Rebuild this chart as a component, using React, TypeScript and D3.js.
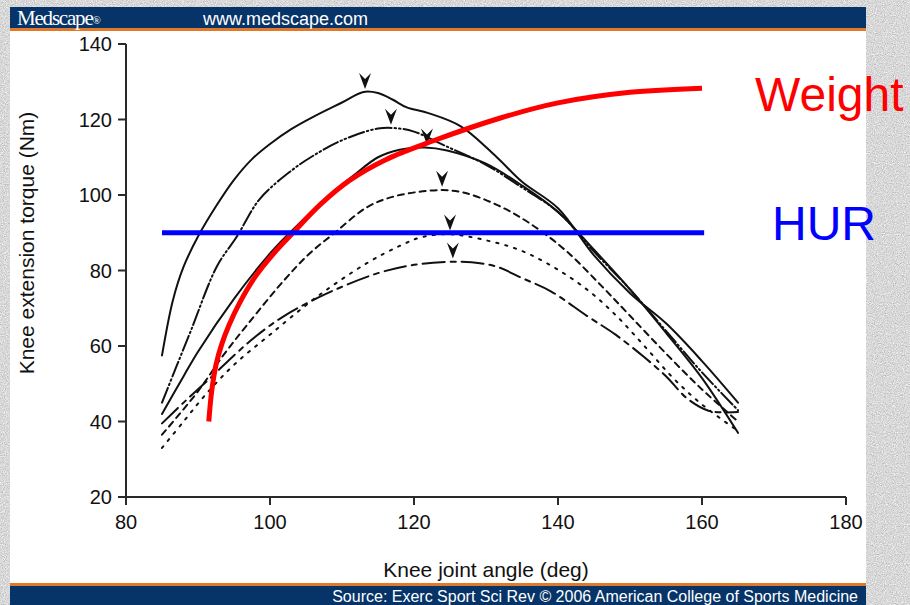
import { useMemo } from "react";
import * as d3 from "d3";

// [knee angle (deg), torque (Nm)]
const solidTop = [
  [85, 57.5], [86.5, 72], [88, 81], [90, 89], [92.5, 97], [95, 104], [97.5, 109.5], [100, 113.5],
  [103, 117.5], [106, 120.7], [110, 124.5], [113, 127.3], [115, 127], [117, 125.3], [119, 123.2],
  [122, 121.7], [126.5, 118.2], [131.5, 110], [135, 103.5], [140, 96.5], [145, 84],
  [150, 74], [155, 66], [160, 56], [165, 45],
];
const dashDotDot = [
  [85, 45], [86.8, 53.6], [89, 64], [92.6, 81], [95.4, 89], [98.6, 99], [103, 106.5], [106, 110.4],
  [110, 114.5], [115, 117.6], [118, 117.6], [120, 116.8], [124.6, 112.8], [130, 108], [135, 102],
  [140, 95.5], [145, 85], [150, 75], [155, 64], [160, 53], [165, 43],
];
const solidMid = [
  [85, 42], [88, 52], [90, 58.5], [95, 72.5], [100, 84.5], [103, 90.5], [108, 99.5], [111.5, 105],
  [115, 110], [118, 112], [121.5, 112.6], [124.6, 111.8], [130, 108.3], [135, 102.5], [140, 95.5],
  [145, 85.5], [150, 75], [155, 63.5], [160, 51.5], [165, 37],
];
const shortDash = [
  [85, 36.5], [90, 48], [93.5, 57.5], [97, 66], [102, 77.5], [105.5, 84.5], [109, 90], [113.5, 96.8],
  [117, 99.5], [120.5, 100.8], [124, 101.3], [127, 100.6], [131.5, 97.4], [136, 92.6], [141, 85.4],
  [146, 76], [150, 68], [155, 58], [160, 48.5], [165, 40],
];
const dotted = [
  [85, 33], [88, 40], [91, 47], [95, 55], [100, 63], [106.5, 73], [113.5, 82], [118, 86.5],
  [121, 88.8], [125, 89.6], [130, 88], [134.7, 85.4], [139.3, 81], [144, 75], [148, 68.2],
  [152, 60], [156, 51.5], [160, 44.5], [165, 37.5],
];
const longDash = [
  [85, 39.5], [88, 45], [91.7, 51.5], [95, 57.5], [98, 62.5], [102, 68], [108, 74], [115, 79.3],
  [120, 81.5], [125, 82.3], [128, 82.2], [131.5, 81], [135, 78], [139, 74.5], [144, 68],
  [148, 63], [152, 57], [155, 52], [158, 46], [161, 42.8], [165, 42.5],
];

// peak markers (angle, torque)
const peaks = [
  [113.2, 127.3], [116.8, 117.8], [121.8, 112.6], [123.9, 101.4], [125, 89.8], [125.4, 82.4],
];

// overlays added on the slide
const weightCurve = [
  [91.5, 40], [91.9, 48], [92.5, 55], [93.3, 60.5], [94.3, 65.5], [95.8, 71.5], [98, 78.5],
  [100.5, 84.5], [103, 89.6], [107, 97.5], [111, 103.8], [116, 109.3], [122.6, 114.3],
  [132, 120.4], [140, 124.4], [150, 127.2], [160, 128.3],
];
const hurLine = [[85, 90], [160.3, 90]];

const xTicks = [80, 100, 120, 140, 160, 180];
const yTicks = [20, 40, 60, 80, 100, 120, 140];

const curves = [
  { data: solidTop, dash: "none" },
  { data: dashDotDot, dash: "16 3 1.5 3 1.5 3" },
  { data: solidMid, dash: "none" },
  { data: shortDash, dash: "6 5" },
  { data: dotted, dash: "2.2 7" },
  { data: longDash, dash: "22 6 5 6" },
];

export default function App() {
  const x = d3.scaleLinear().domain([80, 180]).range([126, 846]);
  const y = d3.scaleLinear().domain([20, 140]).range([497, 44]);

  const line = useMemo(
    () =>
      d3
        .line<number[]>()
        .x((d) => x(d[0]))
        .y((d) => y(d[1]))
        .curve(d3.curveCatmullRom.alpha(0.5)),
    []
  );

  const font = "Arial, 'Liberation Sans', sans-serif";

  return (
    <svg width={910} height={605} style={{ position: "absolute", left: 0, top: 0, display: "block" }}>
      <defs>
        <filter id="grain" x="0" y="0" width="100%" height="100%" colorInterpolationFilters="sRGB">
          <feTurbulence type="fractalNoise" baseFrequency="0.9" numOctaves="2" seed="4" />
          <feColorMatrix
            type="matrix"
            values="0.33 0.33 0.33 0 0  0.33 0.33 0.33 0 0  0.33 0.33 0.33 0 0  0 0 0 0 1"
          />
          <feComponentTransfer>
            <feFuncR type="linear" slope="0.6" intercept="0.55" />
            <feFuncG type="linear" slope="0.6" intercept="0.55" />
            <feFuncB type="linear" slope="0.6" intercept="0.55" />
          </feComponentTransfer>
        </filter>
      </defs>

      {/* slide background */}
      <rect width={910} height={605} fill="#d6d6d6" />
      <rect width={910} height={605} fill="#d6d6d6" filter="url(#grain)" />

      {/* figure panel */}
      <rect x={10} y={30} width={856} height={555} fill="#ffffff" />
      <rect x={10} y={7} width={856} height={21} fill="#063468" />
      <rect x={10} y={28} width={856} height={3} fill="#e07a2a" />
      <text x={17} y={25} fill="#fff" fontFamily="'Liberation Serif', serif" fontSize={21} letterSpacing={-1.2}>
        Medscape
        <tspan fontSize={11} dy={-1}>®</tspan>
      </text>
      <text x={203} y={25} fill="#fff" fontFamily={font} fontSize={18}>
        www.medscape.com
      </text>
      <rect x={10} y={583} width={856} height={3} fill="#e07a2a" />
      <rect x={10} y={586} width={856} height={19} fill="#063468" />
      <text x={858} y={602} fill="#fff" fontFamily={font} fontSize={16} textAnchor="end">
        Source: Exerc Sport Sci Rev © 2006 American College of Sports Medicine
      </text>

      {/* axes */}
      <g stroke="#2a2a2a" strokeWidth={2} fill="none">
        <line x1={x(80)} x2={x(80)} y1={y(140)} y2={y(20)} />
        <line x1={x(80)} x2={x(180)} y1={y(20)} y2={y(20)} />
        {yTicks.map((t) => (
          <line key={"yt" + t} x1={x(80) - 8} x2={x(80)} y1={y(t)} y2={y(t)} />
        ))}
        {xTicks.map((t) => (
          <line key={"xt" + t} x1={x(t)} x2={x(t)} y1={y(20)} y2={y(20) + 8} />
        ))}
      </g>
      <g fontFamily={font} fontSize={20} fill="#111">
        {yTicks.map((t) => (
          <text key={"yl" + t} x={x(80) - 14} y={y(t)} dy="0.35em" textAnchor="end">
            {t}
          </text>
        ))}
        {xTicks.map((t) => (
          <text key={"xl" + t} x={x(t)} y={y(20) + 32} textAnchor="middle">
            {t}
          </text>
        ))}
        <text x={486} y={577} textAnchor="middle" fontSize={21}>
          Knee joint angle (deg)
        </text>
        <text transform="translate(34,243) rotate(-90)" textAnchor="middle" fontSize={21}>
          Knee extension torque (Nm)
        </text>
      </g>

      {/* torque-angle curves */}
      <g fill="none" stroke="#111" strokeWidth={2} strokeLinecap="round">
        {curves.map((c, i) => (
          <path key={i} d={line(c.data) ?? ""} strokeDasharray={c.dash} />
        ))}
      </g>
      <g fill="#111">
        {peaks.map((p, i) => (
          <path
            key={i}
            transform={`translate(${x(p[0])},${y(p[1]) - 3})`}
            d="M0,0 L-6,-16 L0,-10 L6,-16 Z"
          />
        ))}
      </g>

      {/* overlays */}
      <path d={line(weightCurve) ?? ""} fill="none" stroke="#ff0000" strokeWidth={5} />
      <line x1={x(hurLine[0][0])} x2={x(hurLine[1][0])} y1={y(hurLine[0][1])} y2={y(hurLine[1][1])} stroke="#0000ff" strokeWidth={5} />
      <text x={755} y={111} fill="#ff0000" fontFamily={font} fontSize={48}>
        Weight
      </text>
      <text x={772} y={240} fill="#0000ff" fontFamily={font} fontSize={48}>
        HUR
      </text>
    </svg>
  );
}
